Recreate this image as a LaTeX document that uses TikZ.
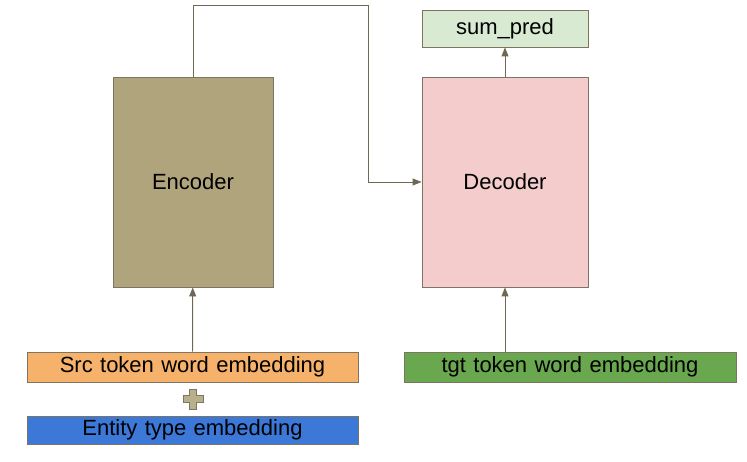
\documentclass[tikz,border=0pt]{standalone}
\usepackage{fontspec}
\setmainfont{Liberation Sans}
\usepackage{tikz}
\usetikzlibrary{arrows.meta,positioning}
\definecolor{encfill}{RGB}{176,164,124}
\definecolor{decfill}{RGB}{244,204,204}
\definecolor{predfill}{RGB}{217,234,211}
\definecolor{srcfill}{RGB}{246,178,107}
\definecolor{entfill}{RGB}{60,120,216}
\definecolor{tgtfill}{RGB}{106,168,79}
\definecolor{edgegrey}{RGB}{125,117,98}
\definecolor{linegrey}{RGB}{110,104,84}
\definecolor{plusfill}{RGB}{184,176,140}

\begin{document}
\begin{tikzpicture}[x=1pt,y=-1pt]
\tikzstyle{block}=[draw=edgegrey,line width=0.9pt,inner sep=0pt,font=\fontsize{22}{26}\selectfont]
\tikzstyle{embed}=[block,minimum height=30pt,text width=331pt,align=center]
\tikzstyle{arrow}=[draw=linegrey,line width=0.9pt,-{Triangle[length=9pt,width=7pt]}]
\useasboundingbox (0,0) rectangle (747,462);
\node [block,fill=encfill,minimum width=160pt,minimum height=210pt] at (193,182) (enc) {Encoder};
\node [block,fill=decfill,minimum width=166pt,minimum height=210pt] at (505,182) (dec) {Decoder};
\node [block,fill=predfill,minimum width=166pt,minimum height=37pt] at (505,28.5) (pred) {sum\_pred};
\node [embed,fill=srcfill] at (192.5,367) (src) {Src token word embedding};
\node [embed,fill=entfill,minimum height=28pt] at (192.5,430) (ent) {Entity type embedding};
\node [embed,fill=tgtfill,text width=332pt] at (570,367) (tgt) {tgt token word embedding};
\coordinate (plus) at (193,399);
\coordinate (turn) at (368,5);

\draw [arrow] (src) -- (enc);
\draw [arrow] (tgt.north -| dec.south) -- (dec.south);
\draw [arrow] (dec) -- (pred);
\draw [arrow] (enc.north) |- (turn) |- (dec.west);
\draw [draw=edgegrey,fill=plusfill,line width=0.6pt,shift={(plus)}]
  (-3.5,-10) -- (3.5,-10) -- (3.5,-3.5) -- (10,-3.5) -- (10,3.5) -- (3.5,3.5) -- (3.5,10)
  -- (-3.5,10) -- (-3.5,3.5) -- (-10,3.5) -- (-10,-3.5) -- (-3.5,-3.5) -- cycle;
\end{tikzpicture}
\end{document}
